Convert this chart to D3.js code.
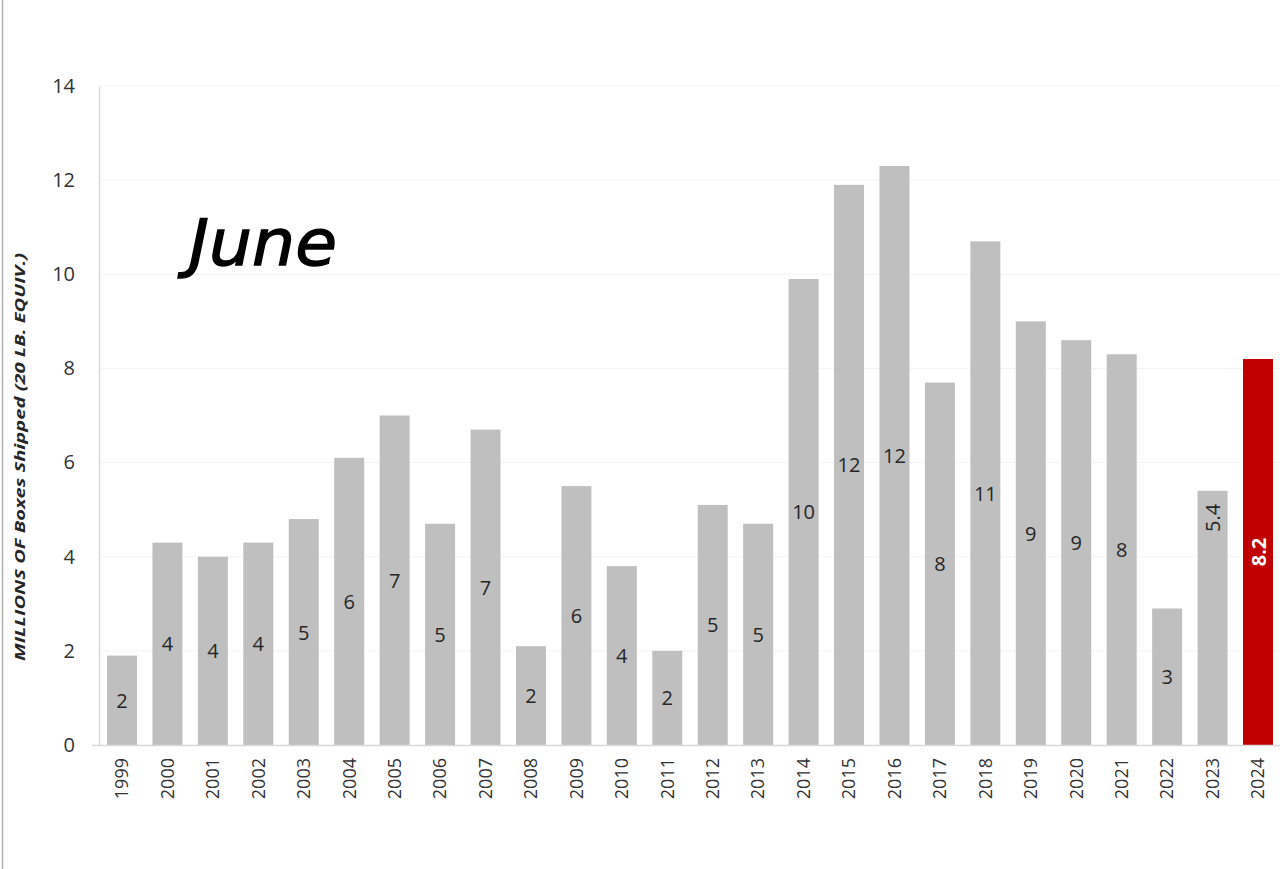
<!DOCTYPE html>
<html><head><meta charset="utf-8">
<script src="https://cdn.jsdelivr.net/npm/d3@7"></script>
<style>body{margin:0;background:#fff;}svg{display:block;}</style>
</head><body>
<svg id="c" width="1284" height="869"></svg>
<script>
const years = ["1999","2000","2001","2002","2003","2004","2005","2006","2007","2008","2009","2010","2011","2012","2013","2014","2015","2016","2017","2018","2019","2020","2021","2022","2023","2024"];
const values = [1.9,4.3,4.0,4.3,4.8,6.1,7.0,4.7,6.7,2.1,5.5,3.8,2.0,5.1,4.7,9.9,11.9,12.3,7.7,10.7,9.0,8.6,8.3,2.9,5.4,8.2];
const labels = ["2","4","4","4","5","6","7","5","7","2","6","4","2","5","5","10","12","12","8","11","9","9","8","3","5.4","8.2"];
const yTicks = [0,2,4,6,8,10,12,14];
const title = "June";
const yTitle = "MILLIONS OF Boxes Shipped (20 LB. EQUIV.)";
const highlight = "2024";

const svg = d3.select("#c");
const x = d3.scaleBand().domain(years).range([100,1280]).paddingInner(0.34).paddingOuter(0.154);
const y = d3.scaleLinear().domain([0,14]).range([745,86]);

// left border
svg.append("line").attr("x1",2.5).attr("x2",2.5).attr("y1",0).attr("y2",869).attr("stroke","#b0b0b0").attr("stroke-width",1.5);

// gridlines
svg.append("g").selectAll("line").data(yTicks.filter(d=>d>0)).join("line")
  .attr("x1",100).attr("x2",1280).attr("y1",d=>y(d)).attr("y2",d=>y(d))
  .attr("stroke","#f3f3f3").attr("stroke-width",1);

// y axis
const ya = svg.append("g").attr("transform","translate(99,0)")
  .call(d3.axisLeft(y).tickValues(yTicks).tickSize(0).tickPadding(24));
ya.select(".domain").attr("stroke","#d9d9d9").attr("stroke-width",1.5);
ya.selectAll("text").attr("font-family","Open Sans, sans-serif").attr("font-size",20).attr("fill","#333");

// bars
svg.append("g").selectAll("rect").data(values).join("rect")
  .attr("x",(d,i)=>x(years[i])).attr("width",x.bandwidth())
  .attr("y",d=>y(d)).attr("height",d=>y(0)-y(d))
  .attr("fill",(d,i)=>years[i]===highlight?"#c00000":"#bfbfbf");

// baseline
svg.append("line").attr("x1",92).attr("x2",1280).attr("y1",745.5).attr("y2",745.5).attr("stroke","#d9d9d9").attr("stroke-width",1.5);

// x axis labels
const xa = svg.append("g").attr("transform","translate(0,745)")
  .call(d3.axisBottom(x).tickSize(0).tickPadding(0));
xa.select(".domain").remove();
xa.selectAll("text").attr("font-family","Open Sans, sans-serif").attr("font-size",18).attr("fill","#333")
  .attr("transform","rotate(-90)").attr("text-anchor","end").attr("dy","0.35em").attr("x",-13).attr("y",0);

// bar labels
const lg = svg.append("g");
values.forEach((v,i)=>{
  const cx = x(years[i]) + x.bandwidth()/2;
  const lab = labels[i];
  const isHi = years[i]===highlight;
  const rotated = lab.includes(".");
  let cy = (y(v)+y(0))/2;
  if (rotated && !isHi) cy = y(v) + 27;
  const t = lg.append("text").text(lab)
    .attr("font-family","Open Sans, sans-serif").attr("font-size",20)
    .attr("font-weight",isHi?"bold":"normal")
    .attr("fill",isHi?"#ffffff":"#262626")
    .attr("text-anchor","middle").attr("dominant-baseline","central");
  if (rotated) t.attr("transform",`translate(${cx},${cy}) rotate(-90)`);
  else t.attr("x",cx).attr("y",cy);
});

// title
svg.append("text").text(title).attr("x",189).attr("y",265)
  .attr("font-family","DejaVu Sans, sans-serif").attr("font-style","italic").attr("font-size",64)
  .attr("fill","#000").attr("stroke","#000").attr("stroke-width",1.3)
  .attr("textLength",148).attr("lengthAdjust","spacingAndGlyphs");

// y title
svg.append("text").text(yTitle)
  .attr("transform",`translate(20,457) rotate(-90)`)
  .attr("text-anchor","middle").attr("dominant-baseline","central").attr("font-family","Open Sans, sans-serif")
  .attr("font-style","italic").attr("font-weight","bold").attr("font-size",13.5)
  .attr("textLength",408).attr("lengthAdjust","spacingAndGlyphs").attr("fill","#262626");
</script>
</body></html>
